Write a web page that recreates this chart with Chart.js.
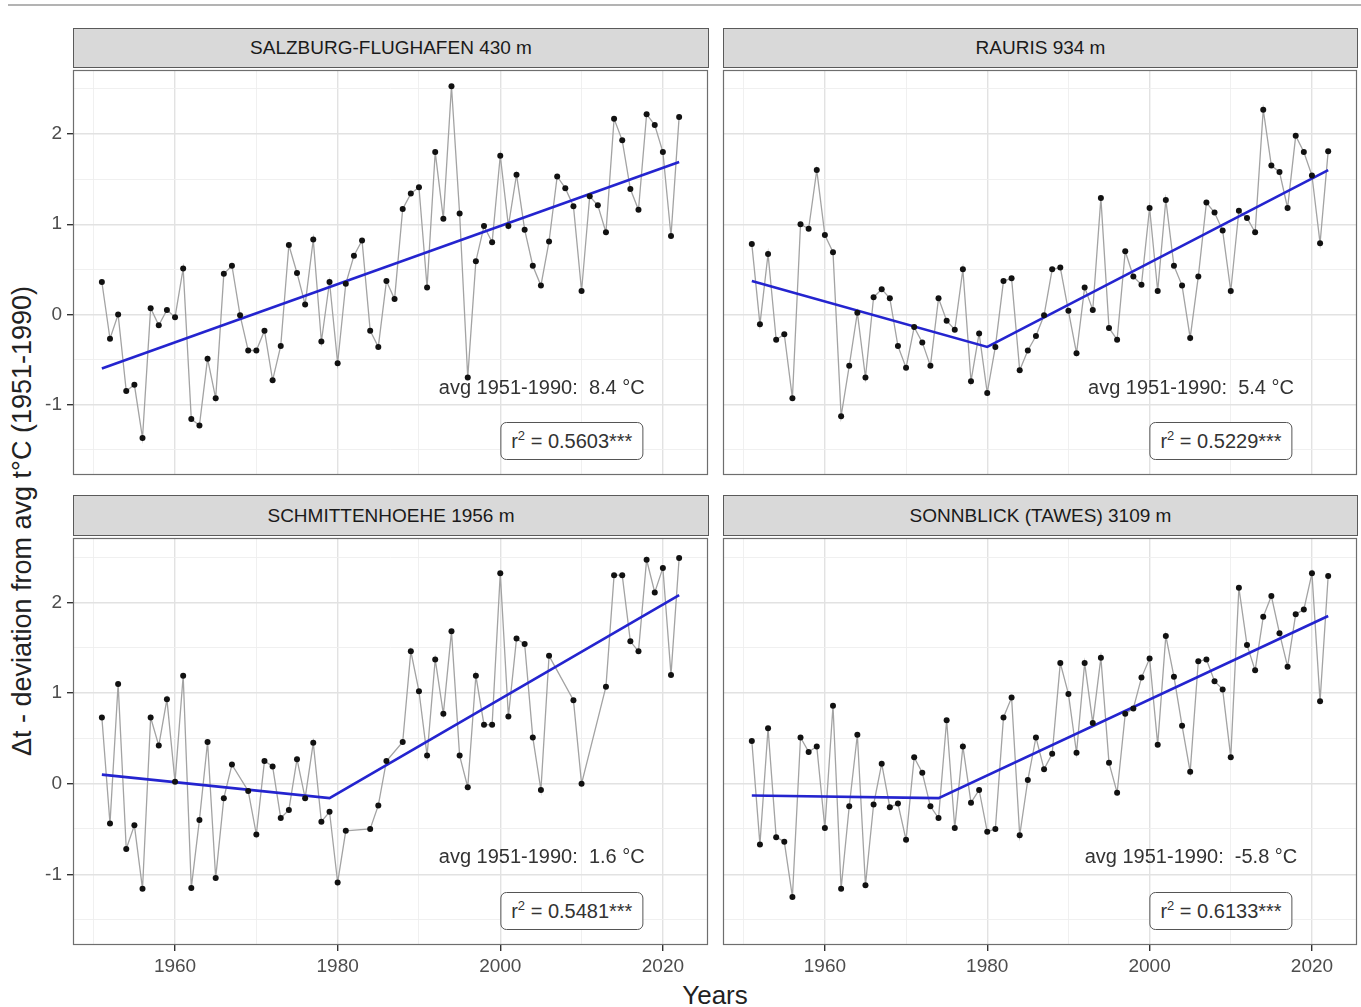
<!DOCTYPE html>
<html><head><meta charset="utf-8">
<script src="https://cdn.jsdelivr.net/npm/chart.js@4.4.0/dist/chart.umd.min.js"></script>
<style>
html,body{margin:0;padding:0;background:#fff;}
#wrap{position:relative;width:1361px;height:1007px;overflow:hidden;font-family:"Liberation Sans",Arial,Helvetica,sans-serif;background:#fff;}
canvas{position:absolute;}
.topline{position:absolute;left:8px;right:0;top:4px;height:2px;background:#b3b3b3;}
.strip{position:absolute;box-sizing:border-box;background:#d9d9d9;border:1px solid #5a5a5a;color:#1a1a1a;font-size:19px;display:flex;align-items:center;justify-content:center;}
.ann{position:absolute;transform:translate(-50%,-50%);white-space:pre;font-size:20px;color:#333;}
.box{position:absolute;transform:translate(-50%,-50%);white-space:nowrap;font-size:20px;color:#333;background:#fff;border:1.5px solid #555;border-radius:6px;padding:6px 10px;line-height:24px;}
.box sup{font-size:13px;line-height:0;vertical-align:8px;}
.xtitle{position:absolute;left:715px;top:995px;transform:translate(-50%,-50%);font-size:26px;color:#222;white-space:nowrap;}
.ytitle{position:absolute;left:22px;top:521px;transform:translate(-50%,-50%) rotate(-90deg);font-size:27px;color:#222;white-space:nowrap;}
</style></head>
<body><div id="wrap">
<div class="topline"></div>
<div class="xtitle">Years</div>
<div class="ytitle">Δt - deviation from avg t°C (1951-1990)</div>
</div>
<script>
// ---------- DATA ----------
const years = [1951,1952,1953,1954,1955,1956,1957,1958,1959,1960,
  1961,1962,1963,1964,1965,1966,1967,1968,1969,1970,
  1971,1972,1973,1974,1975,1976,1977,1978,1979,1980,
  1981,1982,1983,1984,1985,1986,1987,1988,1989,1990,
  1991,1992,1993,1994,1995,1996,1997,1998,1999,2000,
  2001,2002,2003,2004,2005,2006,2007,2008,2009,2010,
  2011,2012,2013,2014,2015,2016,2017,2018,2019,2020,
  2021,2022];

const salzburg = [0.36,-0.27,0.00,-0.85,-0.78,-1.37,0.07,-0.12,0.05,-0.03,
  0.51,-1.16,-1.23,-0.49,-0.93,0.45,0.54,-0.01,-0.40,-0.40,
  -0.18,-0.73,-0.35,0.77,0.46,0.11,0.83,-0.30,0.36,-0.54,
  0.34,0.65,0.82,-0.18,-0.36,0.37,0.17,1.17,1.34,1.41,
  0.30,1.80,1.06,2.53,1.12,-0.70,0.59,0.98,0.80,1.76,
  0.98,1.55,0.94,0.54,0.32,0.81,1.53,1.40,1.20,0.26,
  1.31,1.21,0.91,2.17,1.93,1.39,1.16,2.22,2.10,1.80,
  0.87,2.19];

const rauris = [0.78,-0.11,0.67,-0.28,-0.22,-0.93,1.00,0.95,1.60,0.88,
  0.69,-1.13,-0.57,0.02,-0.70,0.19,0.28,0.18,-0.35,-0.59,
  -0.14,-0.31,-0.57,0.18,-0.07,-0.17,0.50,-0.74,-0.21,-0.87,
  -0.36,0.37,0.40,-0.62,-0.40,-0.24,-0.01,0.50,0.52,0.04,
  -0.43,0.30,0.05,1.29,-0.15,-0.28,0.70,0.42,0.33,1.18,
  0.26,1.27,0.54,0.32,-0.26,0.42,1.24,1.13,0.93,0.26,
  1.15,1.07,0.91,2.27,1.65,1.58,1.18,1.98,1.80,1.54,
  0.79,1.81];

const schmittenhoehe = [0.73,-0.44,1.10,-0.72,-0.46,-1.16,0.73,0.42,0.93,0.02,
  1.19,-1.15,-0.40,0.46,-1.04,-0.16,0.21,null,-0.08,-0.56,
  0.25,0.19,-0.38,-0.29,0.27,-0.16,0.45,-0.42,-0.31,-1.09,
  -0.52,null,null,-0.50,-0.24,0.25,null,0.46,1.46,1.02,
  0.31,1.37,0.77,1.68,0.31,-0.04,1.19,0.65,0.65,2.32,
  0.74,1.60,1.54,0.51,-0.07,1.41,null,null,0.92,0.00,
  null,null,1.07,2.30,2.30,1.57,1.46,2.47,2.11,2.38,
  1.20,2.49];

const sonnblick = [0.47,-0.67,0.61,-0.59,-0.64,-1.25,0.51,0.35,0.41,-0.49,
  0.86,-1.16,-0.25,0.54,-1.12,-0.23,0.22,-0.26,-0.22,-0.62,
  0.29,0.12,-0.25,-0.38,0.70,-0.49,0.41,-0.21,-0.07,-0.53,
  -0.50,0.73,0.95,-0.57,0.04,0.51,0.16,0.33,1.33,0.99,
  0.34,1.33,0.67,1.39,0.23,-0.10,0.77,0.83,1.17,1.38,
  0.43,1.63,1.18,0.64,0.13,1.35,1.37,1.13,1.04,0.29,
  2.16,1.53,1.25,1.84,2.07,1.66,1.29,1.87,1.92,2.32,
  0.91,2.29];

// fitted (segmented) trend lines: knot years and fitted values
const salzburgTrendYears = [1951, 2022];
const salzburgTrendVals  = [-0.60, 1.69];
const raurisTrendYears = [1951, 1980, 2022];
const raurisTrendVals  = [0.37, -0.36, 1.60];
const schmittenTrendYears = [1951, 1979, 2022];
const schmittenTrendVals  = [0.10, -0.16, 2.08];
const sonnblickTrendYears = [1951, 1974, 2022];
const sonnblickTrendVals  = [-0.13, -0.16, 1.85];

const stationNames = ["SALZBURG-FLUGHAFEN 430 m","RAURIS 934 m","SCHMITTENHOEHE 1956 m","SONNBLICK (TAWES) 3109 m"];
const avgLabels = ["avg 1951-1990:  8.4 °C","avg 1951-1990:  5.4 °C","avg 1951-1990:  1.6 °C","avg 1951-1990:  -5.8 °C"];
const r2Values = ["0.5603","0.5229","0.5481","0.6133"];

const xTicks = [1950,1960,1970,1980,1990,2000,2010,2020];
const yTicks = [-1.5,-1,-0.5,0,0.5,1,1.5,2,2.5];

// ---------- LAYOUT ----------
const X_MIN = 1947.45, X_MAX = 2025.55, Y_MIN = -1.78, Y_MAX = 2.71;
const ANN_X = 2005.1, ANN_Y = -0.80, BOX_X = 2008.8, BOX_Y = -1.40;
const FONT = '"Liberation Sans", Arial, Helvetica, sans-serif';

const panels = [
  {vals:salzburg, tx:salzburgTrendYears, ty:salzburgTrendVals, left:0, top:66, w:712, h:413, yLab:true, xLab:false, stripL:73, stripT:28, stripW:636, stripH:40},
  {vals:rauris, tx:raurisTrendYears, ty:raurisTrendVals, left:719, top:66, w:642, h:413, yLab:false, xLab:false, stripL:723, stripT:28, stripW:635, stripH:40},
  {vals:schmittenhoehe, tx:schmittenTrendYears, ty:schmittenTrendVals, left:0, top:534, w:712, h:453, yLab:true, xLab:true, stripL:73, stripT:495, stripW:636, stripH:41},
  {vals:sonnblick, tx:sonnblickTrendYears, ty:sonnblickTrendVals, left:719, top:534, w:642, h:453, yLab:false, xLab:true, stripL:723, stripT:495, stripW:635, stripH:41}
];

const wrap = document.getElementById('wrap');

const framePlugin = {
  id: 'frame',
  afterDraw(chart) {
    const a = chart.chartArea, ctx = chart.ctx;
    ctx.save();
    ctx.strokeStyle = '#6e6e6e';
    ctx.lineWidth = 1.2;
    ctx.strokeRect(a.left + 0.5, a.top + 0.5, a.right - a.left - 1, a.bottom - a.top - 1);
    ctx.restore();
    const p = chart.$panel;
    if (p && p.annEl) {
      const ox = chart.canvas.offsetLeft, oy = chart.canvas.offsetTop;
      p.annEl.style.left = (ox + chart.scales.x.getPixelForValue(ANN_X)) + 'px';
      p.annEl.style.top = (oy + chart.scales.y.getPixelForValue(ANN_Y)) + 'px';
      p.boxEl.style.left = (ox + chart.scales.x.getPixelForValue(BOX_X)) + 'px';
      p.boxEl.style.top = (oy + chart.scales.y.getPixelForValue(BOX_Y)) + 'px';
    }
  }
};

function zeroPad(s) { s.paddingTop = 0; s.paddingBottom = 0; s.paddingLeft = 0; s.paddingRight = 0; }

panels.forEach((p, i) => {
  const strip = document.createElement('div');
  strip.className = 'strip';
  strip.style.left = p.stripL + 'px'; strip.style.top = p.stripT + 'px';
  strip.style.width = p.stripW + 'px'; strip.style.height = p.stripH + 'px';
  strip.textContent = stationNames[i];
  wrap.appendChild(strip);

  const cv = document.createElement('canvas');
  cv.width = p.w; cv.height = p.h;
  cv.style.left = p.left + 'px'; cv.style.top = p.top + 'px';
  cv.style.width = p.w + 'px'; cv.style.height = p.h + 'px';
  wrap.appendChild(cv);

  const ann = document.createElement('div');
  ann.className = 'ann'; ann.textContent = avgLabels[i];
  wrap.appendChild(ann);
  const box = document.createElement('div');
  box.className = 'box'; box.innerHTML = 'r<sup>2</sup> = ' + r2Values[i] + '***';
  wrap.appendChild(box);
  p.annEl = ann; p.boxEl = box;

  const pts = years.map((yr, k) => ({x: yr, y: p.vals[k]}));
  const trend = p.tx.map((yr, k) => ({x: yr, y: p.ty[k]}));

  const chart = new Chart(cv, {
    type: 'line',
    data: {
      datasets: [
        {data: pts, borderColor: '#a3a3a3', borderWidth: 1.3, pointRadius: 0, spanGaps: true, order: 3, tension: 0},
        {data: trend, borderColor: '#2424cf', borderWidth: 2.6, pointRadius: 0, order: 2, tension: 0},
        {data: pts, showLine: false, pointRadius: 3, pointBorderWidth: 0, pointBackgroundColor: '#111', pointBorderColor: '#111', order: 1}
      ]
    },
    plugins: [framePlugin],
    options: {
      responsive: false, animation: false, devicePixelRatio: 1,
      layout: {padding: {left: p.yLab ? 0 : 1, right: 3, top: 1, bottom: 0}},
      plugins: {legend: {display: false}, tooltip: {enabled: false}},
      scales: {
        x: {
          type: 'linear', min: X_MIN, max: X_MAX,
          afterBuildTicks: s => { s.ticks = xTicks.map(v => ({value: v})); },
          afterFit: s => { s.height = p.xLab ? 42 : 1; zeroPad(s); },
          border: {display: false},
          grid: {
            color: c => (c.tick && c.tick.value % 20 === 0) ? '#e2e2e2' : '#eeeeee',
            lineWidth: c => (c.tick && c.tick.value % 20 === 0) ? 1.4 : 0.9,
            drawTicks: p.xLab, tickLength: 6,
            tickColor: c => (c.tick && c.tick.value % 20 === 0) ? '#333' : 'rgba(0,0,0,0)',
            tickWidth: 1.4
          },
          ticks: {
            display: p.xLab, autoSkip: false, maxRotation: 0, padding: 4,
            color: '#4d4d4d', font: {family: FONT, size: 19},
            callback: v => (v % 20 === 0 ? String(v) : '')
          }
        },
        y: {
          type: 'linear', min: Y_MIN, max: Y_MAX,
          afterBuildTicks: s => { s.ticks = yTicks.map(v => ({value: v})); },
          afterFit: s => { s.width = p.yLab ? 73 : 0; zeroPad(s); },
          border: {display: false},
          grid: {
            color: c => (c.tick && Number.isInteger(c.tick.value)) ? '#e2e2e2' : '#eeeeee',
            lineWidth: c => (c.tick && Number.isInteger(c.tick.value)) ? 1.4 : 0.9,
            drawTicks: p.yLab, tickLength: 6,
            tickColor: c => (c.tick && Number.isInteger(c.tick.value)) ? '#333' : 'rgba(0,0,0,0)',
            tickWidth: 1.4
          },
          ticks: {
            display: p.yLab, autoSkip: false, padding: 5,
            color: '#4d4d4d', font: {family: FONT, size: 19},
            callback: v => (Number.isInteger(v) ? String(v) : '')
          }
        }
      }
    }
  });
  chart.$panel = p;
  chart.draw();
});
</script>
</body></html>
